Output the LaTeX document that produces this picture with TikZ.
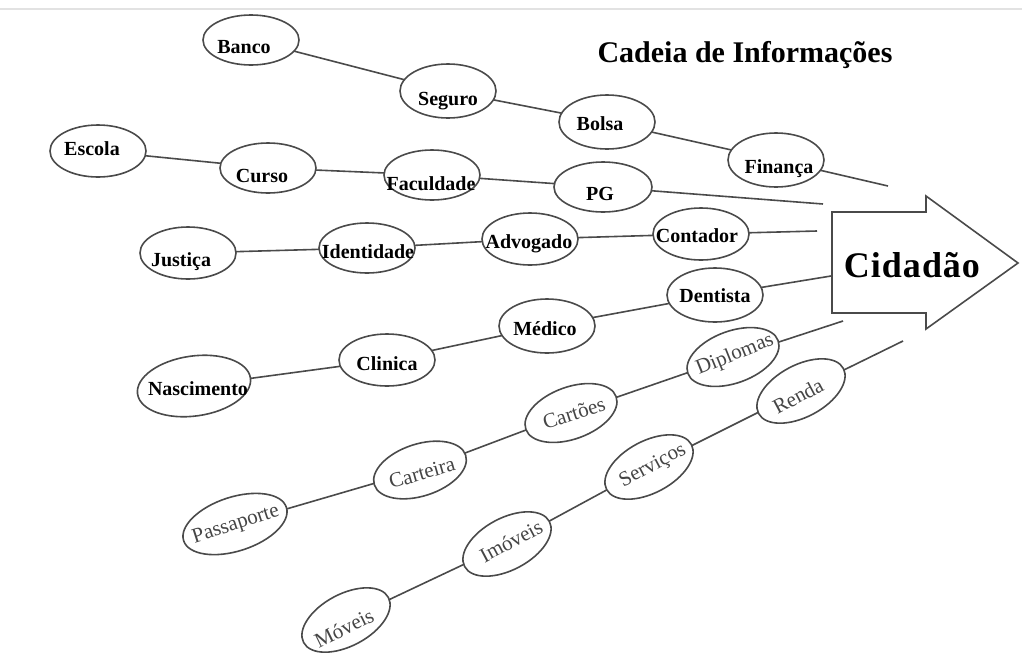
\documentclass[tikz,border=0pt]{standalone}
\usepackage{fontspec}
\setmainfont{Liberation Serif}
\usetikzlibrary{shapes.geometric}
\definecolor{linec}{HTML}{4A4A4A}
\definecolor{graytxt}{HTML}{454545}
\definecolor{topline}{HTML}{E2E2E2}
\tikzset{
  ell/.style={draw=linec, line width=1.6pt, ellipse, minimum width=96pt, minimum height=51pt, inner sep=0pt, outer sep=0pt},
  lb/.style={font=\fontsize{20}{24}\selectfont\bfseries, inner sep=0pt, anchor=base},
  gl/.style={font=\fontsize{21}{24}\selectfont, text=graytxt, inner sep=0pt},
  cn/.style={draw=linec, line width=1.6pt},
}
\begin{document}
\begin{tikzpicture}[x=1pt,y=-1pt]
\useasboundingbox (0,0) rectangle (1022,654);
\fill[white] (0,0) rectangle (1022,654);
\coordinate (tl1) at (0,9);
\coordinate (tl2) at (1022,9);
\draw[topline, line width=1.5pt] (tl1) -- (tl2);

% title
\node[font=\fontsize{30}{36}\selectfont\bfseries, inner sep=0pt, anchor=base] (title) at (745,62) {Cadeia de Informações};

% arrow
\draw[linec, line width=1.6pt, fill=white] (832,212) -- (926,212) -- (926,196) -- (1018,263) -- (926,329) -- (926,313) -- (832,313) -- cycle;
\node[font=\fontsize{36}{42}\selectfont\bfseries, inner sep=0pt, anchor=base] (cid) at (912,277) {C\kern1pt i\kern1pt d\kern1pt a\kern1pt d\kern1pt ã\kern1pt o};

% row 1
\node[ell, minimum height=50pt] (banco) at (251,40) {};
\node[ell, minimum height=54pt] (seguro) at (448,91) {};
\node[ell, minimum height=54pt] (bolsa) at (607,122) {};
\node[ell, minimum height=54pt] (financa) at (776,160) {};
\coordinate (e1) at (888,186);
\node[lb] (tbanco) at (244,53) {Banco};
\node[lb] (tseguro) at (448,105) {Seguro};
\node[lb] (tbolsa) at (600,130) {Bolsa};
\node[lb] (tfinanca) at (779,173) {Finança};
\draw[cn] (banco) -- (seguro);
\draw[cn] (seguro) -- (bolsa);
\draw[cn] (bolsa) -- (financa);
\draw[cn] (financa) -- (e1);

% row 2
\node[ell, minimum height=52pt] (escola) at (98,151) {};
\node[ell, minimum height=50pt] (curso) at (268,168) {};
\node[ell, minimum height=50pt] (faculdade) at (432,175) {};
\node[ell, minimum width=98pt, minimum height=50pt] (pg) at (603,187) {};
\coordinate (e2) at (823,204);
\node[lb] (tescola) at (92,155) {Escola};
\node[lb] (tcurso) at (262,182) {Curso};
\node[lb] (tfaculdade) at (431,190) {Faculdade};
\node[lb] (tpg) at (600,200) {PG};
\draw[cn] (escola) -- (curso);
\draw[cn] (curso) -- (faculdade);
\draw[cn] (faculdade) -- (pg);
\draw[cn] (pg) -- (e2);

% row 3
\node[ell, minimum height=52pt] (justica) at (188,253) {};
\node[ell, minimum height=50pt] (identidade) at (367,248) {};
\node[ell, minimum height=52pt] (advogado) at (530,239) {};
\node[ell, minimum height=52pt] (contador) at (701,234) {};
\coordinate (e3) at (817,231);
\node[lb] (tjustica) at (181,266) {Justiça};
\node[lb] (tidentidade) at (368,258) {Identidade};
\node[lb] (tadvogado) at (529,248) {Advogado};
\node[lb] (tcontador) at (697,242) {Contador};
\draw[cn] (justica) -- (identidade);
\draw[cn] (identidade) -- (advogado);
\draw[cn] (advogado) -- (contador);
\draw[cn] (contador) -- (e3);

% row 4
\node[ell, minimum width=114pt, minimum height=60pt, rotate=8] (nascimento) at (194,386) {};
\node[ell, minimum height=52pt] (clinica) at (387,360) {};
\node[ell, minimum height=54pt] (medico) at (547,326) {};
\node[ell, minimum height=54pt] (dentista) at (715,295) {};
\coordinate (e4) at (831,276);
\node[lb] (tnascimento) at (198,395) {Nascimento};
\node[lb] (tclinica) at (387,370) {Clinica};
\node[lb] (tmedico) at (545,335) {Médico};
\node[lb] (tdentista) at (715,302) {Dentista};
\draw[cn] (nascimento) -- (clinica);
\draw[cn] (clinica) -- (medico);
\draw[cn] (medico) -- (dentista);
\draw[cn] (dentista) -- (e4);

% row 5
\node[ell, minimum width=108pt, minimum height=54pt, rotate=18] (passaporte) at (235,524) {};
\node[ell, minimum height=52pt, rotate=18] (carteira) at (420,470) {};
\node[ell, minimum height=52pt, rotate=20] (cartoes) at (571,413) {};
\node[ell, minimum height=52pt, rotate=20] (diplomas) at (733,357) {};
\coordinate (e5) at (843,321);
\node[gl, rotate=18] (tpassaporte) at (236,525) {Passaporte};
\node[gl, rotate=16] (tcarteira) at (422,473) {Carteira};
\node[gl, rotate=18] (tcartoes) at (574,413) {Cartões};
\node[gl, rotate=22] (tdiplomas) at (735,355) {Diplomas};
\draw[cn] (passaporte) -- (carteira);
\draw[cn] (carteira) -- (cartoes);
\draw[cn] (cartoes) -- (diplomas);
\draw[cn] (diplomas) -- (e5);

% row 6
\node[ell, minimum height=52pt, rotate=28] (moveis) at (346,620) {};
\node[ell, minimum height=52pt, rotate=28] (imoveis) at (507,544) {};
\node[ell, minimum height=52pt, rotate=28] (servicos) at (649,467) {};
\node[ell, minimum height=52pt, rotate=28] (renda) at (801,391) {};
\coordinate (e6) at (903,341);
\node[gl, rotate=26] (tmoveis) at (344,628) {Móveis};
\node[gl, rotate=28] (timoveis) at (511,541) {Imóveis};
\node[gl, rotate=28] (tservicos) at (653,466) {Serviços};
\node[gl, rotate=28] (trenda) at (798,396) {Renda};
\draw[cn] (moveis) -- (imoveis);
\draw[cn] (imoveis) -- (servicos);
\draw[cn] (servicos) -- (renda);
\draw[cn] (renda) -- (e6);
\end{tikzpicture}
\end{document}
